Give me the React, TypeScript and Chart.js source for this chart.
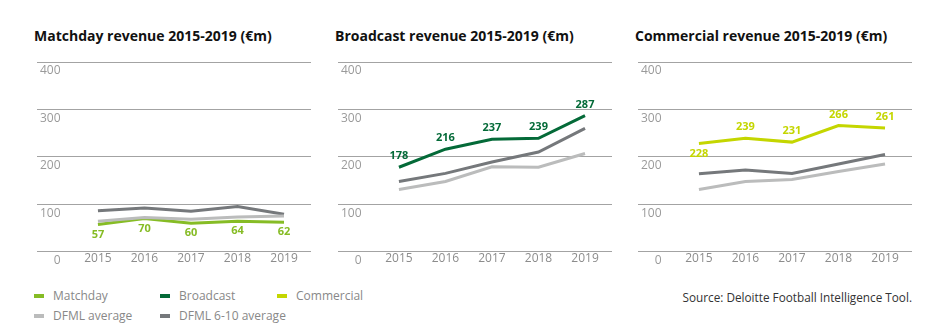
import React, { useEffect, useRef } from 'react';
import { Chart, registerables } from 'chart.js';

Chart.register(...registerables);

// ---- Data ----
const years = [2015, 2016, 2017, 2018, 2019];
const yTickValues = [0, 100, 200, 300, 400];

const matchday = [57, 70, 60, 64, 62];
const matchdayDfmlAvg = [64, 72, 68, 73, 75];
const matchdayDfml610 = [86, 92, 85, 95, 79];

const broadcast = [178, 216, 237, 239, 287];
const broadcastDfmlAvg = [131, 148, 179, 178, 207];
const broadcastDfml610 = [148, 165, 189, 210, 260];

const commercial = [228, 239, 231, 266, 261];
const commercialDfmlAvg = [131, 148, 152, 169, 185];
const commercialDfml610 = [164, 172, 165, 185, 205];

// ---- Styles ----
const FONT = '"Open Sans", "Noto Sans", sans-serif';
const C_MATCHDAY = '#86BC25';
const C_BROADCAST = '#046A38';
const C_COMMERCIAL = '#C4D600';
const C_AVG = '#BBBCBC';
const C_610 = '#75787B';

const valueLabels = {
  id: 'valueLabels',
  afterDatasetsDraw(chart: any) {
    const ctx = chart.ctx;
    chart.data.datasets.forEach((ds: any, i: number) => {
      const lp = ds.labelPlacement;
      if (!lp) return;
      const meta = chart.getDatasetMeta(i);
      ctx.save();
      ctx.font = `bold 11px ${FONT}`;
      ctx.fillStyle = ds.borderColor;
      ctx.textAlign = 'center';
      ctx.textBaseline = 'middle';
      meta.data.forEach((pt: any, j: number) => {
        const off = lp[j] === 'below' ? 10 : -11;
        ctx.fillText(String(ds.data[j].y), pt.x, pt.y + off);
      });
      ctx.restore();
    });
  },
};

const toPoints = (vals: number[]) => vals.map((v, i) => ({ x: years[i], y: v }));

type PanelProps = {
  title: string;
  left: number;
  main: number[];
  mainColor: string;
  avg: number[];
  d610: number[];
  placement: string[];
};

function Panel({ title, left, main, mainColor, avg, d610, placement }: PanelProps) {
  const ref = useRef<HTMLCanvasElement>(null);
  useEffect(() => {
    if (!ref.current) return;
    const chart = new Chart(ref.current, {
      type: 'line',
      data: {
        datasets: [
          { data: toPoints(avg), borderColor: C_AVG, backgroundColor: C_AVG, borderWidth: 3, pointRadius: 0, tension: 0 },
          { data: toPoints(d610), borderColor: C_610, backgroundColor: C_610, borderWidth: 3, pointRadius: 0, tension: 0 },
          {
            data: toPoints(main),
            borderColor: mainColor,
            backgroundColor: mainColor,
            borderWidth: 3,
            pointRadius: 0,
            tension: 0,
            labelPlacement: placement,
          } as any,
        ],
      },
      options: {
        animation: false,
        responsive: true,
        maintainAspectRatio: false,
        layout: { padding: { top: 12, bottom: 4, left: 0, right: 0 } },
        plugins: { legend: { display: false }, tooltip: { enabled: false } },
        scales: {
          x: {
            type: 'linear',
            min: 2013.69,
            max: 2019.58,
            grid: { display: false, drawTicks: false },
            border: { display: false },
            afterBuildTicks: (axis: any) => {
              axis.ticks = years.map((v) => ({ value: v }));
            },
            ticks: {
              autoSkip: false,
              maxRotation: 0,
              padding: 0,
              color: '#8c8c8c',
              font: { family: FONT, size: 12 },
              callback: (v: any) => String(v),
            },
          },
          y: {
            min: 0,
            max: 400,
            afterBuildTicks: (axis: any) => {
              axis.ticks = yTickValues.map((v) => ({ value: v }));
            },
            grid: { color: '#a3a3a3', lineWidth: 1, drawTicks: false },
            border: { display: false },
            ticks: {
              mirror: true,
              crossAlign: 'far',
              padding: 3,
              labelOffset: 9,
              color: '#9a9a9a',
              font: { family: FONT, size: 12 },
              callback: (v: any) => String(v),
            },
          },
        },
      } as any,
      plugins: [valueLabels],
    });
    return () => chart.destroy();
  }, []);

  return (
    <>
      <div
        style={{
          position: 'absolute',
          left,
          top: 27,
          fontFamily: FONT,
          fontWeight: 700,
          fontSize: 14,
          lineHeight: '18px',
          color: '#111',
          whiteSpace: 'nowrap',
        }}
      >
        {title}
      </div>
      <div style={{ position: 'absolute', left: left - 3, top: 50, width: 280, height: 220 }}>
        <canvas ref={ref} />
      </div>
    </>
  );
}

function LegendItem({ x, y, color, label }: { x: number; y: number; color: string; label: string }) {
  return (
    <>
      <div style={{ position: 'absolute', left: x, top: y - 2, width: 10, height: 4, background: color }} />
      <div
        style={{
          position: 'absolute',
          left: x + 19,
          top: y - 8,
          fontFamily: FONT,
          fontSize: 12,
          lineHeight: '16px',
          color: '#888',
          whiteSpace: 'nowrap',
        }}
      >
        {label}
      </div>
    </>
  );
}

export default function App() {
  return (
    <div style={{ position: 'absolute', left: 0, top: 0, width: 943, height: 336, background: '#fff', overflow: 'hidden' }}>
      <Panel
        title="Matchday revenue 2015-2019 (€m)"
        left={34}
        main={matchday}
        mainColor={C_MATCHDAY}
        avg={matchdayDfmlAvg}
        d610={matchdayDfml610}
        placement={['below', 'below', 'below', 'below', 'below']}
      />
      <Panel
        title="Broadcast revenue 2015-2019 (€m)"
        left={335}
        main={broadcast}
        mainColor={C_BROADCAST}
        avg={broadcastDfmlAvg}
        d610={broadcastDfml610}
        placement={['above', 'above', 'above', 'above', 'above']}
      />
      <Panel
        title="Commercial revenue 2015-2019 (€m)"
        left={635}
        main={commercial}
        mainColor={C_COMMERCIAL}
        avg={commercialDfmlAvg}
        d610={commercialDfml610}
        placement={['below', 'above', 'above', 'above', 'above']}
      />
      <LegendItem x={34} y={296} color={C_MATCHDAY} label="Matchday" />
      <LegendItem x={160} y={296} color={C_BROADCAST} label="Broadcast" />
      <LegendItem x={277} y={296} color={C_COMMERCIAL} label="Commercial" />
      <LegendItem x={34} y={316} color={C_AVG} label="DFML average" />
      <LegendItem x={160} y={316} color={C_610} label="DFML 6-10 average" />
      <div
        style={{
          position: 'absolute',
          right: 943 - 912,
          top: 289,
          fontFamily: FONT,
          fontSize: 11.75,
          lineHeight: '16px',
          color: '#333',
          whiteSpace: 'nowrap',
        }}
      >
        Source: Deloitte Football Intelligence Tool.
      </div>
    </div>
  );
}
